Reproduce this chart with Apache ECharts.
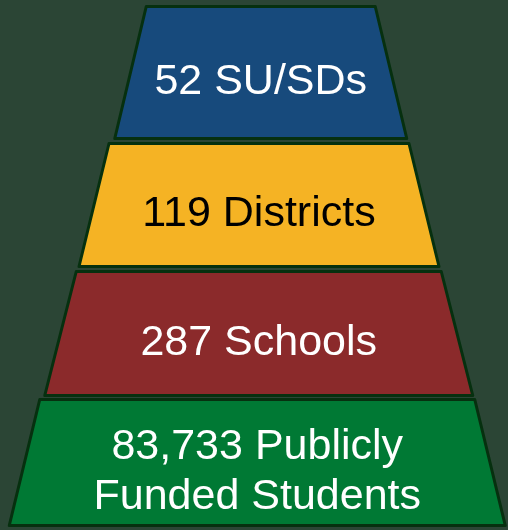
<!DOCTYPE html>
<html>
<head>
<meta charset="utf-8">
<script src="https://cdn.jsdelivr.net/npm/echarts@6/dist/echarts.min.js"></script>
<style>
html,body{margin:0;padding:0;background:#2b4535;}
#chart{width:508px;height:530px;}
</style>
</head>
<body>
<div id="chart"></div>
<script>
// Data
var categories = ['SU/SDs', 'Districts', 'Schools', 'Publicly\nFunded Students'];
var values = [52, 119, 287, 83733];
var valueLabels = ['52', '119', '287', '83,733'];

// Layout (pixel geometry of each tier: top/bottom y, top-left/right x, bottom-left/right x)
var layout = [
  {y0: 5,   y1: 140, tl: 145, tr: 377, bl: 113, br: 408},
  {y0: 142, y1: 268, tl: 107, tr: 410, bl: 78,  br: 441},
  {y0: 270, y1: 397, tl: 75,  tr: 443, bl: 43,  br: 474},
  {y0: 398, y1: 527, tl: 39,  tr: 477, bl: 7,   br: 506}
];
var fills = ['#174a7c', '#f5b324', '#8b2a2b', '#007934'];
var textColors = ['#ffffff', '#000000', '#ffffff', '#ffffff'];
var border = '#06300f';
var bw = 3;

var series = categories.map(function (cat, i) {
  var g = layout[i];
  var cx = ((g.tl + g.tr) / 2 + (g.bl + g.br) / 2) / 2;
  var topW = g.tr - g.tl - bw;
  var botW = g.br - g.bl - bw;
  var y0 = g.y0 + bw / 2, y1 = g.y1 - bw / 2;
  var lines = (valueLabels[i] + ' ' + cat).split('\n');
  return {
    type: 'funnel',
    sort: 'ascending',
    left: cx - botW / 2,
    width: botW,
    top: y0,
    height: y1 - y0,
    min: 0,
    max: values[i],
    minSize: (topW / botW * 100) + '%',
    maxSize: '100%',
    gap: 0,
    silent: true,
    itemStyle: {color: fills[i], borderColor: border, borderWidth: bw},
    label: {
      show: true,
      position: 'inside',
      formatter: '{sp| }\n' + lines.map(function (l) { return '{t|' + l + '}'; }).join('\n'),
      color: textColors[i],
      rich: {
        sp: {fontSize: 1, lineHeight: 19},
        t: {
          color: textColors[i],
          fontSize: 43,
          fontFamily: 'Liberation Sans, Arial, sans-serif',
          lineHeight: 50
        }
      }
    },
    labelLine: {show: false},
    emphasis: {disabled: true},
    data: [{name: cat, value: values[i]}]
  };
});

var chart = echarts.init(document.getElementById('chart'), null, {renderer: 'canvas'});
chart.setOption({
  backgroundColor: '#2b4535',
  animation: false,
  series: series
});
</script>
</body>
</html>
